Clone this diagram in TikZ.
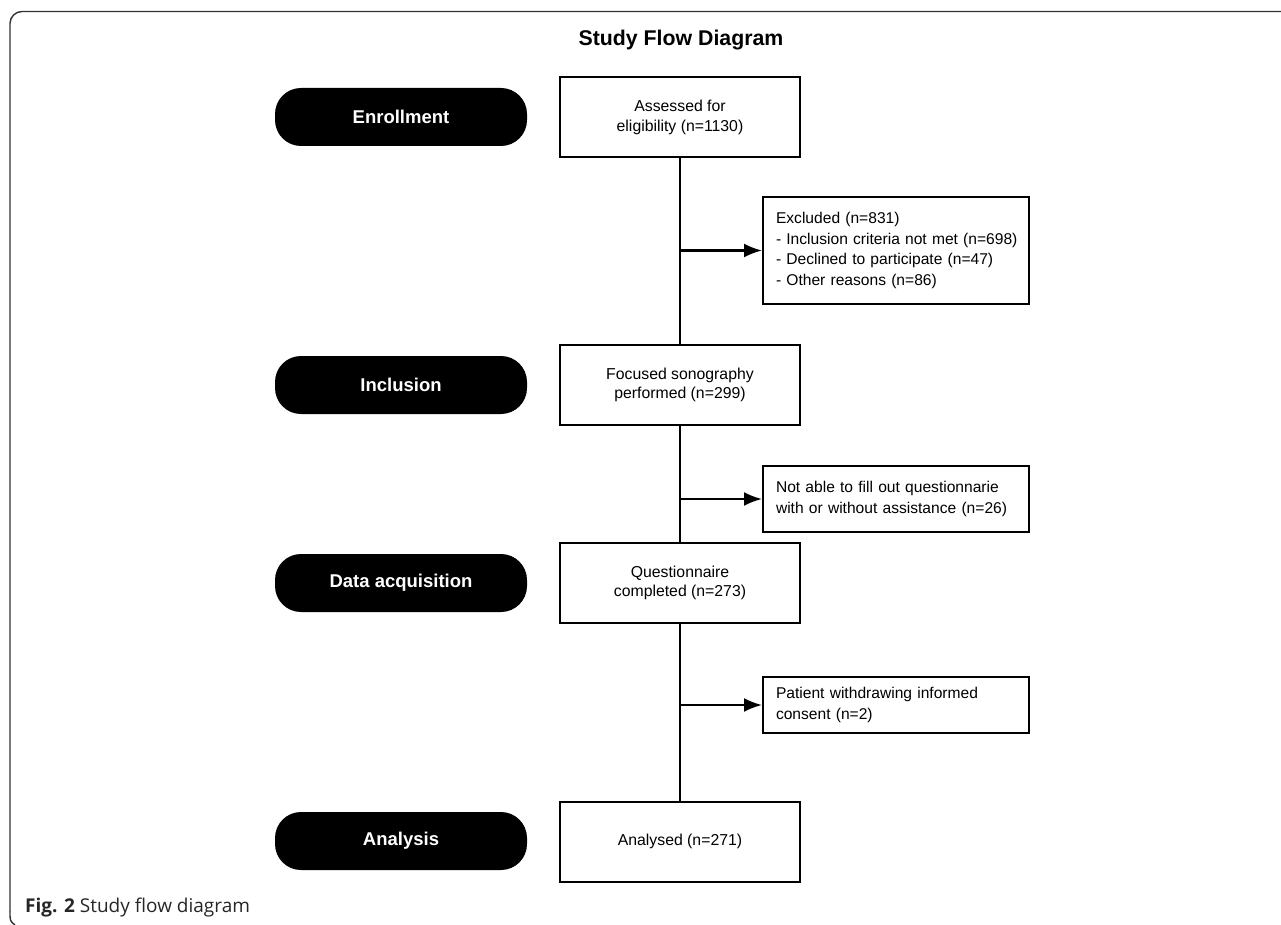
\documentclass[tikz,border=0pt]{standalone}
\usepackage{fontspec}
\setmainfont{Liberation Sans}
\newfontfamily\capfont{Open Sans}
\usetikzlibrary{arrows.meta}

\begin{document}
\begin{tikzpicture}[x=1pt,y=-1pt,>={Latex[length=18pt,width=14pt]},
    mainbox/.style={draw, line width=2pt, minimum width=240pt,
      minimum height=80pt, align=center, inner sep=0pt,
      font=\fontsize{15.8}{19.5}\selectfont},
    sidebox/.style={draw, line width=2pt, minimum width=266pt,
      align=left, inner xsep=13pt, inner ysep=0pt, text width=240pt,
      anchor=west, font=\fontsize{15.6}{20.5}\selectfont},
    stage/.style={fill=black, text=white, rounded corners=26pt,
      minimum width=252pt, minimum height=58pt, inner sep=0pt,
      font=\fontsize{18.5}{22}\selectfont\bfseries},
    flow/.style={line width=2.2pt}]

  \useasboundingbox (0,0) rectangle (1281,925);

  % ---- frame ----
  \draw[line width=1.4pt, black!80, rounded corners=12pt]
      (1281,11.5) -- (10,11.5) -- (10,912);
  \draw[line width=1.4pt, black!80] (10,911.5)
      .. controls (10,921) .. (15,925);

  \node[font=\fontsize{21.3}{25}\selectfont\bfseries] (TTL) at (681,40)
      {Study Flow Diagram};

  % ---- the stages, on the left ----
  \node[stage] (ST1) at (401,117) {Enrollment};
  \node[stage] (ST2) at (401,385) {Inclusion};
  \node[stage] (ST3) at (401,583) {Data acquisition};
  \node[stage] (ST4) at (401,841) {Analysis};

  % ---- the main column ----
  \node[mainbox] (ASS) at (680,117.5) {Assessed for\\eligibility (n=1130)};
  \node[mainbox] (FOC) at (680,385) {Focused sonography\\performed (n=299)};
  \node[mainbox] (QUE) at (680,583) {Questionnaire\\completed (n=273)};
  \node[mainbox] (ANA) at (680,841.5) {Analysed (n=271)};

  % ---- the dropouts, on the right ----
  \node[sidebox, minimum height=107pt] (EXC) at (762,250.5)
      {Excluded (n=831)\\\mbox{- Inclusion criteria not met (n=698)}\\
       \mbox{- Declined to participate (n=47)}\\- Other reasons (n=86)};
  \node[sidebox, minimum height=66pt] (NAB) at (762,499)
      {\mbox{Not able to fill out questionnarie}\\
       \mbox{with or without assistance (n=26)}};
  \node[sidebox, minimum height=56pt] (WDR) at (762,705)
      {Patient withdrawing informed\\consent (n=2)};

  \draw[flow] (ASS) -- (FOC);
  \draw[flow] (FOC) -- (QUE);
  \draw[flow] (QUE) -- (ANA);

  \coordinate (J1) at (ASS.south |- EXC.west);
  \coordinate (J2) at (ASS.south |- NAB.west);
  \coordinate (J3) at (ASS.south |- WDR.west);
  \draw[flow, ->] (J1) -- (EXC);
  \draw[flow, ->] (J2) -- (NAB);
  \draw[flow, ->] (J3) -- (WDR);

  % ---- caption ----
  \node[anchor=base west, inner sep=0pt, text=black!85,
        font=\capfont\fontsize{19}{22}\selectfont] (CAP) at (25,912)
      {\textbf{Fig. 2} Study flow diagram};

\end{tikzpicture}
\end{document}
